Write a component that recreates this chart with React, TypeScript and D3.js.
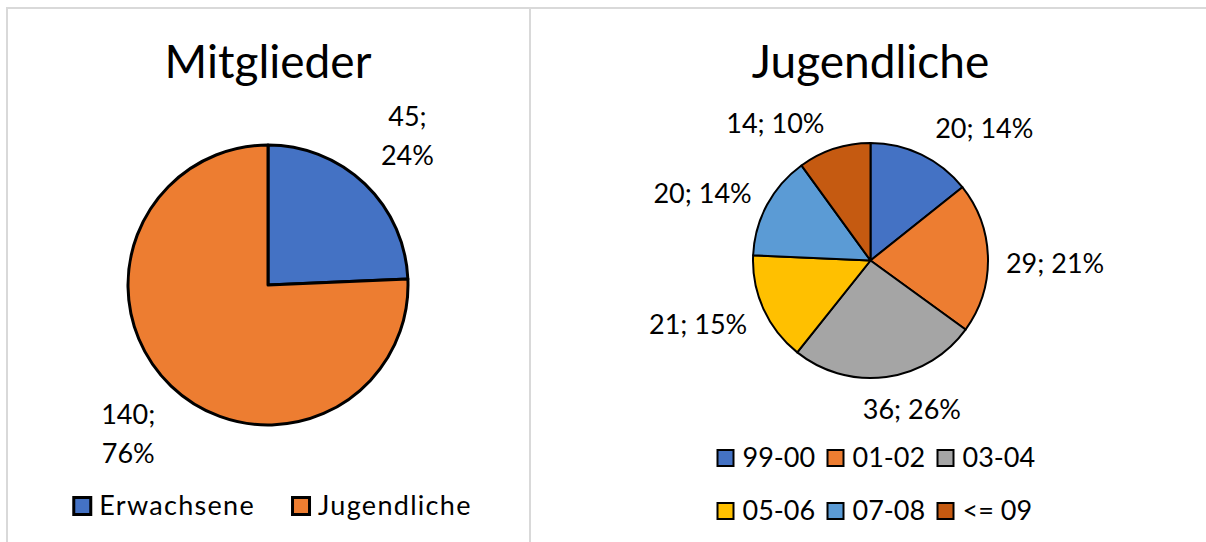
import React, { useRef, useEffect } from 'react';
import * as d3 from 'd3';

const W = 1206;
const H = 542;

// Mitglieder
const memberCats = ['Erwachsene', 'Jugendliche'];
const memberVals = [45, 140];
const memberColors = ['#4472C4', '#ED7D31'];

// Jugendliche by birth years
const youthCats = ['99-00', '01-02', '03-04', '05-06', '07-08', '<= 09'];
const youthVals = [20, 29, 36, 21, 20, 14];
const youthColors = ['#4472C4', '#ED7D31', '#A5A5A5', '#FFC000', '#5B9BD5', '#C55A11'];

// manual label nudges (Excel "best fit" shifts some labels sideways)
const youthNudge: [number, number][] = [[35, -2], [3, 6], [17, 5], [-7, 4], [-8, 1], [-39, 0]];

const FONT = 'Lato, "Noto Sans", sans-serif';
const FS = 27;

const App: React.FC = () => {
  const svgRef = useRef<SVGSVGElement>(null);

  useEffect(() => {
    if (!svgRef.current) return;
    const svg = d3.select(svgRef.current);
    svg.selectAll('*').remove();

    svg.append('rect').attr('width', W).attr('height', H).attr('fill', '#fff');

    // panel frames (top edge, left edge, divider)
    const frame = svg.append('g').attr('stroke', '#d9d9d9').attr('stroke-width', 2);
    frame.append('line').attr('x1', 6).attr('x2', W).attr('y1', 8).attr('y2', 8);
    frame.append('line').attr('x1', 7).attr('x2', 7).attr('y1', 7).attr('y2', H);
    frame.append('line').attr('x1', 530).attr('x2', 530).attr('y1', 7).attr('y2', H);

    const drawPie = (opts: {
      title: string; cx: number; cy: number; r: number; stroke: number;
      vals: number[]; colors: string[];
      gap: number; twoLine: boolean; nudge?: [number, number][];
    }) => {
      const g = svg.append('g');
      const total = d3.sum(opts.vals);

      g.append('text')
        .attr('x', opts.cx).attr('y', 78)
        .attr('text-anchor', 'middle')
        .attr('font-family', FONT).attr('font-size', 46).attr('fill', '#000')
        .text(opts.title);

      const pie = d3.pie<number>().sort(null).value(d => d);
      const arcs = pie(opts.vals);
      const arc = d3.arc<d3.PieArcDatum<number>>().innerRadius(0).outerRadius(opts.r);

      const pg = g.append('g').attr('transform', `translate(${opts.cx},${opts.cy})`);
      pg.selectAll('path').data(arcs).enter().append('path')
        .attr('d', arc)
        .attr('fill', (_, i) => opts.colors[i])
        .attr('stroke', '#000')
        .attr('stroke-width', opts.stroke)
        .attr('stroke-linejoin', 'round');

      // data labels: "value; pct"
      arcs.forEach((a, i) => {
        const mid = (a.startAngle + a.endAngle) / 2;
        const pct = Math.round((a.value / total) * 100) + '%';
        const lines = opts.twoLine ? [`${a.value};`, pct] : [`${a.value}; ${pct}`];
        const t = pg.append('text')
          .attr('font-family', FONT).attr('font-size', FS).attr('fill', '#000')
          .attr('text-anchor', 'middle');
        lines.forEach(l => t.append('tspan').text(l));
        const wMax = d3.max(t.selectAll<SVGTSpanElement, unknown>('tspan').nodes(),
          n => n.getComputedTextLength()) || 0;
        const lineH = 39;
        const boxH = (lines.length - 1) * lineH + FS * 0.9;
        const R = opts.r + opts.gap;
        const nd = opts.nudge ? opts.nudge[i] : [0, 0];
        const bx = Math.sin(mid) * R + Math.sin(mid) * wMax / 2 + nd[0];
        const by = -Math.cos(mid) * R - Math.cos(mid) * boxH / 2 + nd[1];
        const first = by - ((lines.length - 1) * lineH) / 2 + FS * 0.36;
        t.selectAll('tspan')
          .attr('x', bx)
          .attr('y', (_, j) => first + j * lineH);
      });
      return g;
    };

    // left chart
    const lcx = 268, lcy = 285;
    drawPie({
      title: 'Mitglieder', cx: lcx, cy: lcy, r: 140, stroke: 3,
      vals: memberVals, colors: memberColors,
      gap: 35, twoLine: true,
    });

    // left legend, centered row
    const lg = svg.append('g');
    let lx = 0;
    memberCats.forEach((c, i) => {
      const item = lg.append('g').attr('transform', `translate(${lx},0)`);
      item.append('rect').attr('x', 1.5).attr('y', -17.5).attr('width', 17).attr('height', 17)
        .attr('fill', memberColors[i]).attr('stroke', '#000').attr('stroke-width', 3);
      const t = item.append('text').attr('x', 27).attr('y', 0)
        .attr('font-family', FONT).attr('font-size', FS).attr('letter-spacing', 1.3)
        .attr('fill', '#000').text(c);
      lx += 27 + (t.node() as SVGTextElement).getComputedTextLength() + 36;
    });
    const lw = lx - 36;
    lg.attr('transform', `translate(${lcx + 4 - lw / 2},515)`);

    // right chart
    const rcx = 870.5, rcy = 260.5;
    drawPie({
      title: 'Jugendliche', cx: rcx, cy: rcy, r: 117.5, stroke: 2,
      vals: youthVals, colors: youthColors,
      gap: 15, twoLine: false, nudge: youthNudge,
    });

    // right legend: 3-column grid
    const colW = 110;
    const rg = svg.append('g').attr('transform', `translate(${rcx - 1.5 * colW + 11},0)`);
    youthCats.forEach((c, i) => {
      const col = i % 3, row = Math.floor(i / 3);
      const item = rg.append('g').attr('transform', `translate(${col * colW},${467 + row * 53})`);
      item.append('rect').attr('x', 1).attr('y', -17).attr('width', 16).attr('height', 16)
        .attr('fill', youthColors[i]).attr('stroke', '#000').attr('stroke-width', 2);
      item.append('text').attr('x', 26).attr('y', 0)
        .attr('font-family', FONT).attr('font-size', FS).attr('fill', '#000').text(c);
    });
  }, []);

  return (
    <svg
      ref={svgRef}
      width={W}
      height={H}
      style={{ position: 'absolute', left: 0, top: 0, display: 'block' }}
    />
  );
};

export default App;
